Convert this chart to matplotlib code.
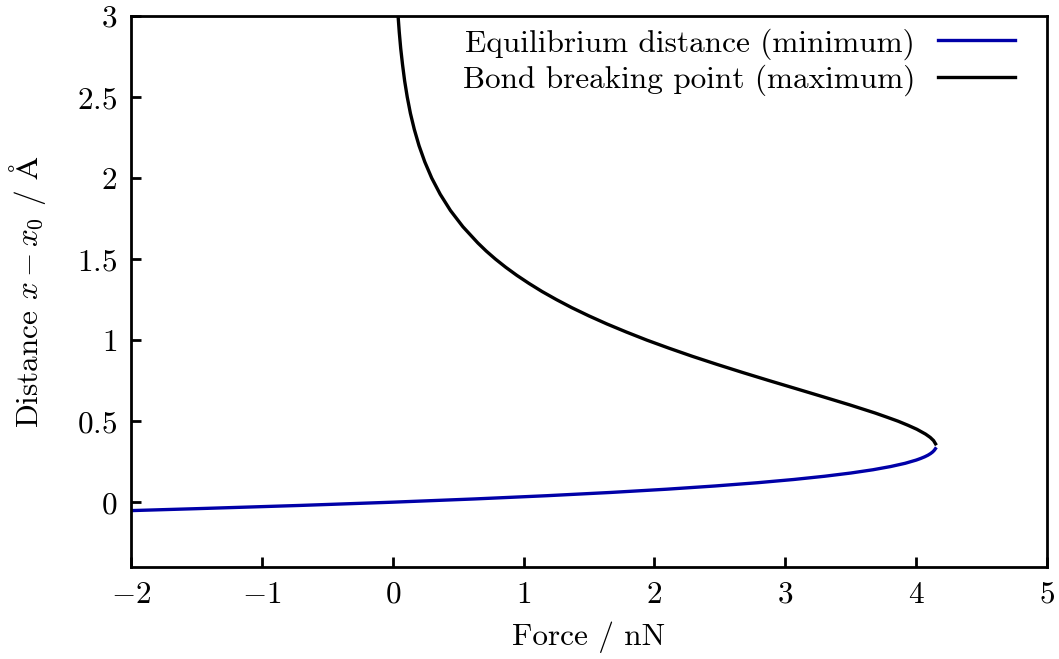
import matplotlib
matplotlib.use("Agg")
import matplotlib.pyplot as plt

# Equilibrium distance (minimum) : force (nN) vs distance (Angstrom)
min_force = [-2.0, -1.497, -0.705, 0.0, 0.626, 1.178, 1.665, 2.092, 2.463, 2.786,
             3.064, 3.300, 3.501, 3.669, 3.805, 3.916, 4.001, 4.035, 4.065, 4.090,
             4.110, 4.126, 4.138, 4.147]
min_dist = [-0.052, -0.04, -0.02, 0.0, 0.02, 0.04, 0.06, 0.08, 0.10, 0.12,
            0.14, 0.16, 0.18, 0.20, 0.22, 0.24, 0.26, 0.27, 0.28, 0.29,
            0.30, 0.31, 0.32, 0.33]

# Bond breaking point (maximum)
max_force = [4.148, 4.133, 4.107, 4.072, 4.005, 3.936, 3.861, 3.775, 3.687, 3.494,
             3.290, 3.084, 2.877, 2.675, 2.479, 2.290, 2.112, 1.942, 1.785, 1.636,
             1.498, 1.369, 1.251, 1.141, 1.041, 0.948, 0.863, 0.785, 0.714, 0.650,
             0.536, 0.441, 0.363, 0.298, 0.245, 0.201, 0.165, 0.135, 0.111, 0.091,
             0.075, 0.061, 0.050, 0.041]
max_dist = [0.36, 0.38, 0.40, 0.42, 0.45, 0.475, 0.5, 0.525, 0.55, 0.6,
            0.65, 0.7, 0.75, 0.8, 0.85, 0.9, 0.95, 1.0, 1.05, 1.1,
            1.15, 1.2, 1.25, 1.3, 1.35, 1.4, 1.45, 1.5, 1.55, 1.6,
            1.7, 1.8, 1.9, 2.0, 2.1, 2.2, 2.3, 2.4, 2.5, 2.6,
            2.7, 2.8, 2.9, 3.0]

xticks = [-2, -1, 0, 1, 2, 3, 4, 5]
xtick_labels = ['$-2$', '$-1$', '$0$', '$1$', '$2$', '$3$', '$4$', '$5$']
yticks = [0, 0.5, 1, 1.5, 2, 2.5, 3]
ytick_labels = ['$0$', '$0.5$', '$1$', '$1.5$', '$2$', '$2.5$', '$3$']

plt.rcParams['font.family'] = ['cmr10', 'DejaVu Serif']
plt.rcParams['mathtext.fontset'] = 'cm'
plt.rcParams['axes.formatter.use_mathtext'] = True

fs = 22.5
fig = plt.figure(figsize=(10.59, 6.59), dpi=100)
ax = fig.add_axes([0.1237, 0.1396, 0.8650, 0.8361])

ax.plot(min_force, min_dist, color='#0000a8', lw=2.4, solid_joinstyle='round',
        label='Equilibrium distance (minimum)')
ax.plot(max_force, max_dist, color='black', lw=2.4, solid_joinstyle='round',
        label='Bond breaking point (maximum)')

ax.set_xlim(-2, 5)
ax.set_ylim(-0.4, 3)
ax.set_xticks(xticks)
ax.set_xticklabels(xtick_labels)
ax.set_yticks(yticks)
ax.set_yticklabels(ytick_labels)
ax.tick_params(direction='in', length=7, width=2, labelsize=fs, pad=10)
for s in ax.spines.values():
    s.set_linewidth(2)

ax.set_xlabel('Force / nN', fontsize=fs, labelpad=9)
ax.set_ylabel(r'Distance $x - x_0$ / $\mathrm{Å}$', fontsize=fs, labelpad=21)

ax.legend(loc='upper right', bbox_to_anchor=(0.965, 0.978), frameon=False,
          markerfirst=False, fontsize=fs, handlelength=2.46, handletextpad=0.74,
          labelspacing=0.15, borderpad=0, borderaxespad=0)

fig.savefig('out.png', dpi=100)
